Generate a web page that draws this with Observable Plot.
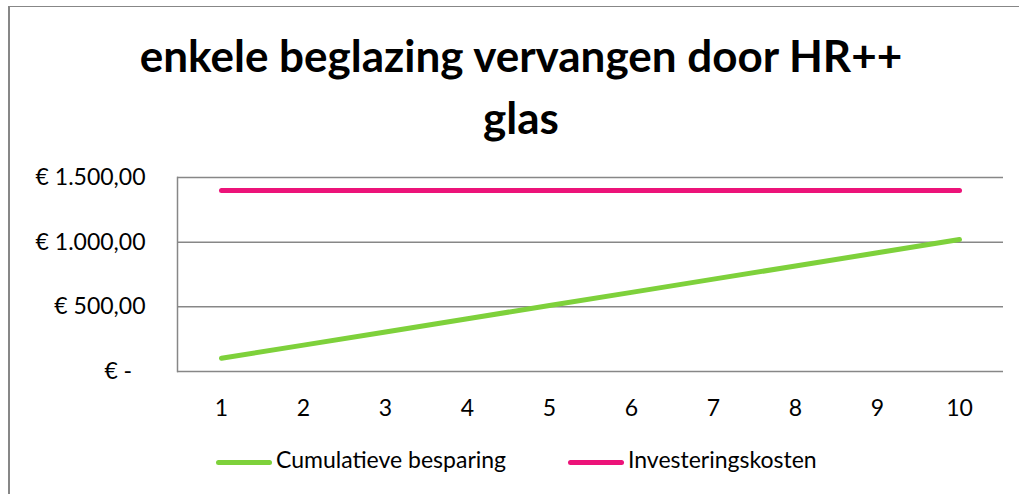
<!DOCTYPE html>
<html><head><meta charset="utf-8">
<script src="https://cdn.jsdelivr.net/npm/d3@7"></script>
<script src="https://cdn.jsdelivr.net/npm/@observablehq/plot@0.6"></script>
<style>
body{margin:0;background:#fff;font-family:Lato,sans-serif;}
#wrap{position:relative;width:1019px;height:494px;overflow:hidden;background:#fff;}
#frame{position:absolute;left:8px;top:6px;width:1100px;height:600px;border-left:2px solid #878787;border-top:1px solid #878787;}
#title{position:absolute;left:0;width:1042px;top:24px;text-align:center;font-weight:bold;font-size:44px;line-height:62px;color:#000;}
#chart{position:absolute;left:0;top:0;}
.item{position:absolute;top:445px;height:28px;display:flex;align-items:center;font-size:23px;color:#000;white-space:nowrap;}
.sw{width:56px;height:5px;border-radius:3px;margin-right:4px;transform:translateY(3px);}
</style>
</head><body>
<div id="wrap">
<div id="frame"></div>
<div id="chart"></div>
<div id="title">enkele beglazing vervangen door HR++<br>glas</div>
<div id="legend"></div>
</div>
<script>
const years = [1, 2, 3, 4, 5, 6, 7, 8, 9, 10];
const besparing = [102, 204, 306, 408, 510, 612, 714, 816, 918, 1020];
const investering = [1400, 1400, 1400, 1400, 1400, 1400, 1400, 1400, 1400, 1400];
const seriesNames = ["Cumulatieve besparing", "Investeringskosten"];
const seriesColors = ["#7ED13B", "#EC1379"];
const yTicks = [0, 500, 1000, 1500];

const nl = d3.formatLocale({decimal: ",", thousands: ".", grouping: [3], currency: ["€ ", ""]});
const f2 = nl.format(",.2f");
const fmt = d => d === 0 ? "€ -\u2007" : "€ " + f2(d);

const data = years.flatMap((yr, i) => [
  {year: yr, value: besparing[i], series: seriesNames[0]},
  {year: yr, value: investering[i], series: seriesNames[1]}
]);

const chart = Plot.plot({
  width: 1019, height: 494,
  marginLeft: 177, marginRight: 16, marginTop: 177, marginBottom: 123,
  style: {fontFamily: "Lato, sans-serif", fontSize: "23px", background: "transparent", color: "#000"},
  x: {type: "point", domain: years, padding: 0.5, label: null},
  y: {domain: [0, 1500], label: null},
  color: {domain: seriesNames, range: seriesColors},
  marks: [
    Plot.gridY(yTicks.filter(d => d > 0), {stroke: "#878787", strokeOpacity: 1, strokeWidth: 1.5}),
    Plot.ruleY([0], {stroke: "#878787", strokeWidth: 1.5}),
    Plot.frame({anchor: "left", stroke: "#878787", strokeWidth: 1.5}),
    Plot.axisX({tickSize: 0, tickPadding: 28, fontSize: 23, label: null}),
    Plot.axisY(yTicks, {tickSize: 0, tickPadding: 32, fontSize: 23, tickFormat: fmt, label: null}),
    Plot.line(data, {x: "year", y: "value", stroke: "series", strokeWidth: 5, strokeLinecap: "round", strokeLinejoin: "round"})
  ]
});
document.getElementById("chart").appendChild(chart);

const lg = document.getElementById("legend");
const lefts = [216, 568];
seriesNames.forEach((name, i) => {
  const it = document.createElement("div");
  it.className = "item";
  it.style.left = lefts[i] + "px";
  const sw = document.createElement("div");
  sw.className = "sw";
  sw.style.background = seriesColors[i];
  it.appendChild(sw);
  it.appendChild(document.createTextNode(name));
  lg.appendChild(it);
});
</script>
</body></html>
